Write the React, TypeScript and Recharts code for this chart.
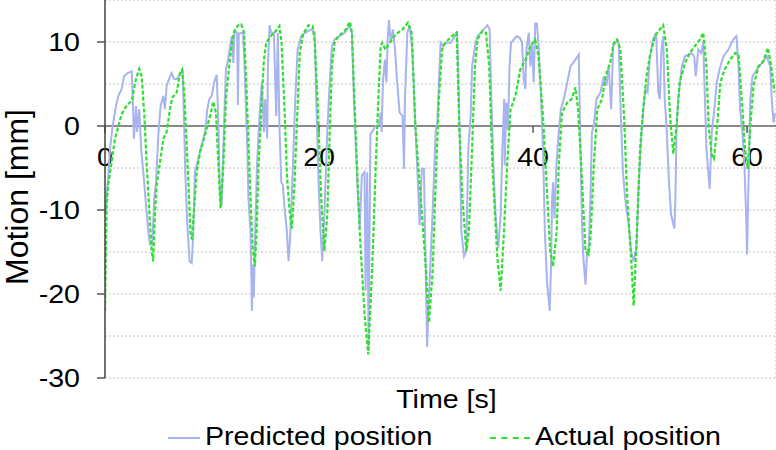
import { LineChart, Line, XAxis, YAxis, CartesianGrid, ReferenceLine } from 'recharts';

const FONT = '"Liberation Sans", Arial, sans-serif';
const STRETCH = 1.1; // the reference text is a little wider than the font
const X_MAX = 62.7;
const gridX = [0, 4, 8, 12, 16, 20, 24, 28, 32, 36, 40, 44, 48, 52, 56, 60];
const gridY = [-30, -25, -20, -15, -10, -5, 0, 5, 10, 15];
const yLabels = [-30, -20, -10, 0, 10];
const xLabels = [0, 20, 40, 60];

// [time s, motion mm]
const predicted: [number, number][] = [
  [0.1, -10.2], [0.15, -8.2], [0.3, -6.3], [0.47, -2.7], [0.72, 0], [1.03, 2.4], [1.25, 3.6], [1.56, 4.4],
  [1.78, 5.9], [2.1, 6.3], [2.5, 6.5], [2.6, 3.2], [2.7, -1.5], [2.9, 2.4], [3.0, -0.7], [3.2, 2.0],
  [3.4, -3.1], [3.58, -5.5], [3.83, -9.4], [4.05, -12.6], [4.2, -14.1], [4.42, -14.1], [4.6, -8.6],
  [4.77, -6.7], [5.0, -0.7], [5.2, 2.4], [5.45, 3.6], [5.6, 2.0], [5.76, 4.8], [6.0, 5.6], [6.23, 6.3],
  [6.45, 5.6], [6.7, 5.6], [7.0, 6.1], [7.26, 6.5], [7.4, 0], [7.5, -5.5], [7.7, -11.8], [7.9, -16.1],
  [8.1, -16.3], [8.26, -12.6], [8.4, -5.5], [8.72, -3.9], [9.03, -2.3], [9.35, -0.7], [9.56, 2.0],
  [9.75, 3.2], [9.97, 3.6], [10.2, 5.2], [10.44, 6.1], [10.6, 0], [10.75, -8.6], [10.9, -9.5], [11.05, -3.0],
  [11.2, 3.2], [11.3, 6.7], [11.5, 7.9], [11.84, 10.7], [12.0, 7.5], [12.1, 11.3], [12.35, 11.1],
  [12.42, 2.5], [12.5, 11.0], [12.9, 11.1], [13.04, 7.1], [13.3, -2.7], [13.4, -8.6], [13.6, -12.6],
  [13.73, -22.0], [13.8, -16.5], [13.9, -20.4], [14.04, -12.6], [14.2, -4.7], [14.44, 1.2], [14.66, 5.2],
  [14.85, -0.7], [14.97, 3.2], [15.16, -1.5], [15.22, 7.1], [15.38, 12.0], [15.53, 11.1], [15.78, 11.1],
  [16.0, 1.2], [16.15, 11.1], [16.3, 0], [16.47, -6.7], [16.62, -7.0], [16.78, -9.8], [17.0, -12.6],
  [17.15, -16.1], [17.3, -13.3], [17.56, -4.7], [17.78, 3.2], [18.0, 9.1], [18.34, 10.7], [18.7, 11.1],
  [19.27, 11.5], [19.6, 11.1], [19.74, 3.2], [19.96, -6.7], [20.14, -12.6], [20.3, -16.1], [20.5, -10.6],
  [20.77, -0.7], [21.0, 5.2], [21.2, 9.5], [21.45, 10.3], [21.9, 10.7], [22.4, 11.1], [22.85, 11.9],
  [23.07, 11.1], [23.26, 3.2], [23.57, -6.7], [23.8, -12.2], [24.0, -5.9], [24.25, -5.5], [24.35, -19.6],
  [24.5, -5.5], [24.63, -26.3], [24.8, -1.0], [25.3, 0], [25.6, 0.2], [25.76, 1.6], [25.85, -0.7],
  [25.97, 5.2], [26.16, 7.9], [26.3, 5.2], [26.4, 9.9], [26.53, 12.6], [26.7, 9.9], [26.9, 11.5],
  [27.1, 9.1], [27.3, 5.2], [27.53, 1.6], [27.8, 1.2], [27.94, -5.1], [28.03, 3.2], [28.25, 11.1],
  [28.47, 11.9], [28.72, 9.1], [29.0, 0], [29.3, -8.6], [29.4, -11.8], [29.6, -5.1], [29.8, -5.1],
  [29.96, -16.5], [30.1, -26.3], [30.27, -20.4], [30.6, -10.6], [30.9, -0.7], [31.05, 0.4], [31.2, 5.2],
  [31.36, 9.9], [31.6, 9.5], [31.9, 9.9], [32.3, 9.9], [32.7, 10.7], [32.9, 11.3], [33.0, 7.1],
  [33.14, -0.7], [33.3, -12.6], [33.55, -15.5], [33.76, -14.9], [33.95, -2.7], [34.17, 1.2], [34.3, 7.1],
  [34.57, 9.5], [34.8, 10.7], [35.26, 11.3], [35.73, 12.0], [35.94, 11.5], [36.1, 3.2], [36.35, -6.7],
  [36.5, -10.6], [36.75, -14.5], [36.97, -10.6], [37.13, -2.7], [37.3, 3.2], [37.35, -4.7], [37.5, 2.8],
  [37.65, -0.5], [37.8, 7.1], [37.94, 9.9], [38.2, 10.3], [38.5, 10.7], [38.75, 10.5], [38.97, 9.9],
  [39.13, 5.6], [39.28, 4.4], [39.38, 9.1], [39.6, 11.1], [39.75, 7.1], [39.9, 9.9], [40.06, 5.2],
  [40.2, 12.2], [40.35, 12.2], [40.5, 9.9], [40.75, 3.2], [40.93, -2.7], [41.1, -12.6], [41.3, -18.5],
  [41.56, -22.0], [41.68, -16.5], [41.78, -8.6], [41.87, -6.7], [42.0, -11.0], [42.18, -4.7], [42.4, -0.7],
  [42.6, 2.0], [42.87, 3.2], [43.2, 5.2], [43.5, 7.1], [43.96, 7.9], [44.27, 8.5], [44.4, -0.7],
  [44.58, -11.8], [44.7, -15.7], [44.9, -18.9], [45.05, -14.9], [45.2, -14.5], [45.36, -8.6], [45.5, -0.7],
  [45.67, 0], [45.92, 3.2], [46.3, 4.0], [46.6, 5.9], [46.85, 4.8], [47.07, 7.1], [47.3, 2.0], [47.48, 9.5],
  [47.8, 10.1], [48.0, 9.9], [48.2, 1.2], [48.4, -5.5], [48.6, -8.6], [48.94, -11.8], [49.16, -14.9],
  [49.4, -16.1], [49.66, -14.5], [49.88, -6.7], [50.1, -1.5], [50.3, 2.0], [50.5, 4.4], [50.7, 4.0],
  [50.9, 7.9], [51.2, 10.3], [51.5, 11.1], [51.7, 4.0], [51.84, 3.2], [52.0, 9.1], [52.16, 10.7],
  [52.3, 3.2], [52.47, 0], [52.7, -6.7], [52.9, -10.6], [53.2, -12.2], [53.3, -8.6], [53.4, -0.7],
  [53.56, 3.2], [53.9, 7.1], [54.2, 8.3], [54.8, 8.7], [55.06, 8.3], [55.2, 5.9], [55.44, 9.1], [55.7, 8.7],
  [55.9, 9.9], [56.06, 3.2], [56.2, -2.7], [56.4, -5.9], [56.5, -7.5], [56.7, -0.7], [56.94, 2.0],
  [57.16, 5.2], [57.5, 7.1], [57.8, 8.3], [58.25, 9.1], [58.7, 10.3], [59.0, 10.7], [59.2, 7.1],
  [59.34, 2.0], [59.56, -0.7], [59.75, -4.7], [59.9, -10.2], [60.0, -15.3], [60.1, -8.6], [60.3, 3.2],
  [60.5, 5.9], [60.9, 6.7], [61.4, 7.5], [61.85, 8.3], [62.16, 7.1], [62.3, 3.2], [62.47, 0.4], [62.6, 1.5],
];

const actual: [number, number][] = [
  [0, -22.0], [0.15, -9.4], [0.3, -7.0], [0.62, -4.3], [0.93, -1.5], [1.25, 0], [1.56, 1.4], [2.0, 2.4],
  [2.5, 3.0], [2.65, 4.0], [2.9, 5.6], [3.2, 6.8], [3.43, 5.9], [3.68, 1.2], [3.9, -4.7], [4.14, -10.2],
  [4.36, -14.9], [4.5, -16.1], [4.67, -10.6], [4.83, -7.0], [5.14, -4.3], [5.45, -1.5], [5.76, -0.7],
  [6.07, 2.0], [6.3, 3.4], [6.7, 4.0], [7.0, 6.3], [7.2, 6.7], [7.4, 4.0], [7.57, -0.7], [7.8, -7.0],
  [8.0, -13.0], [8.13, -13.5], [8.3, -10.2], [8.57, -5.5], [8.88, -3.1], [9.25, -1.5], [9.56, 0],
  [9.9, 1.6], [10.1, 2.9], [10.37, 1.6], [10.6, -4.7], [10.8, -9.8], [11.06, -4.7], [11.3, 3.2],
  [11.6, 7.1], [11.9, 10.3], [12.15, 11.5], [12.46, 12.0], [12.73, 12.1], [13.0, 11.1], [13.2, 5.2],
  [13.35, 0], [13.6, -8.6], [13.8, -14.5], [14.0, -16.7], [14.16, -12.6], [14.35, -4.7], [14.6, 2.0],
  [14.85, 7.9], [15.07, 9.9], [15.47, 10.7], [15.84, 11.1], [16.3, 11.9], [16.5, 9.9], [16.8, 1.2],
  [17.0, -5.9], [17.25, -10.2], [17.46, -12.2], [17.7, -7.0], [17.96, 1.2], [18.2, 8.7], [18.5, 10.9],
  [19.0, 12.0], [19.4, 11.9], [19.6, 9.9], [19.9, 2.0], [20.2, -8.6], [20.5, -14.9], [20.77, -10.6],
  [21.0, -0.7], [21.2, 7.1], [21.45, 9.9], [21.8, 10.7], [22.2, 11.1], [22.5, 11.5], [22.9, 12.4],
  [23.07, 11.1], [23.4, 0], [23.8, -12.6], [24.25, -22.4], [24.6, -27.2], [24.98, -16.5], [25.3, -4.7],
  [25.54, 3.2], [25.76, 9.5], [25.9, 9.9], [26.2, 9.1], [26.7, 10.1], [27.16, 10.9], [27.8, 11.5],
  [28.3, 12.3], [28.65, 11.1], [29.0, 0], [29.5, -8.6], [29.96, -16.5], [30.27, -23.4], [30.6, -17.7],
  [30.9, -6.7], [31.2, 3.2], [31.5, 9.1], [31.77, 9.9], [32.1, 10.3], [32.6, 10.9], [32.86, 11.1],
  [33.1, 0], [33.4, -8.6], [33.76, -14.9], [34.0, -12.6], [34.3, -2.7], [34.57, 7.1], [34.8, 10.3],
  [35.26, 11.3], [35.6, 11.1], [35.9, 7.1], [36.2, -4.7], [36.66, -15.7], [36.97, -19.6], [37.28, -12.6],
  [37.57, -4.7], [37.9, 2.0], [38.35, 3.6], [38.8, 6.7], [39.3, 7.9], [39.75, 9.5], [40.2, 10.3],
  [40.5, 8.3], [40.93, 1.2], [41.25, -6.7], [41.6, -14.9], [41.87, -16.7], [42.2, -12.6], [42.4, -4.7],
  [42.7, 1.6], [43.2, 2.8], [43.6, 3.2], [43.96, 4.6], [44.2, 2.0], [44.5, -4.7], [44.9, -14.9],
  [45.2, -15.3], [45.4, -12.6], [45.67, -4.7], [46.0, 2.0], [46.45, 3.2], [46.76, 5.9], [47.2, 7.5],
  [47.54, 9.9], [47.85, 10.3], [48.16, 9.1], [48.5, 1.2], [48.8, -8.6], [49.16, -15.7], [49.4, -21.4],
  [49.7, -12.6], [50.0, -2.7], [50.3, 2.2], [50.6, 5.9], [50.9, 8.3], [51.4, 10.7], [51.84, 11.5],
  [52.16, 12.0], [52.5, 9.1], [52.8, 1.2], [53.1, -3.3], [53.4, 0], [53.7, 5.2], [54.2, 7.5], [54.66, 8.7],
  [55.1, 9.5], [55.6, 10.3], [55.9, 11.1], [56.2, 7.1], [56.4, 0], [56.7, -3.5], [56.9, -3.9], [57.2, 0],
  [57.5, 5.2], [57.9, 6.7], [58.4, 7.9], [58.9, 8.7], [59.2, 8.5], [59.5, 3.2], [59.8, -2.7],
  [60.06, -5.1], [60.3, 0], [60.6, 4.8], [61.06, 7.1], [61.5, 7.7], [61.94, 9.3], [62.25, 7.1], [62.56, 4.0],
];

const predictedData = predicted.map(([t, v]) => ({ t, v }));
const actualData = actual.map(([t, v]) => ({ t, v }));

// text drawn wider than the font, anchored at (x, y)
function Wide({ x, y, anchor, dy, children }: any) {
  return (
    <text
      transform={`translate(${x} ${y}) scale(${STRETCH} 1)`}
      x={0}
      y={0}
      dy={dy}
      textAnchor={anchor}
      fontSize={26}
      fill="#000"
    >
      {children}
    </text>
  );
}

function YTick(props: any) {
  const { x, y, payload } = props;
  if (!yLabels.includes(payload.value)) return <g />;
  return (
    <g>
      <line x1={x - 8} x2={x} y1={y} y2={y} stroke="#555" strokeWidth={1.5} />
      <Wide x={x - 25} y={y} dy="0.36em" anchor="end">{payload.value}</Wide>
    </g>
  );
}

function XTickLabel(props: any) {
  const vb = props.viewBox;
  return (
    <Wide x={vb.x + vb.width / 2} y={vb.y + vb.height + 14} dy="0.75em" anchor="middle">
      {props.text}
    </Wide>
  );
}

function XTitle(props: any) {
  const vb = props.viewBox;
  return (
    <Wide x={vb.x + vb.width / 2 + 6} y={vb.y + 10} dy="0.75em" anchor="middle">
      Time [s]
    </Wide>
  );
}

function YTitle(props: any) {
  const vb = props.viewBox;
  const cy = vb.y + vb.height / 2 + 8;
  const cx = 17;
  return (
    <text
      x={cx}
      y={cy}
      transform={`rotate(-90, ${cx}, ${cy})`}
      textAnchor="middle"
      dominantBaseline="central"
      fontSize={32}
      fill="#000"
    >
      Motion [mm]
    </text>
  );
}

const legendText = {
  display: 'inline-block',
  transform: `scaleX(${STRETCH})`,
  transformOrigin: 'left center',
};

export default function App() {
  return (
    <div style={{ position: 'absolute', left: 0, top: 0, width: 776, height: 450, background: '#fff', fontFamily: FONT }}>
      <LineChart width={776} height={450} margin={{ top: 0, right: 0, bottom: 0, left: 0 }} style={{ fontFamily: FONT }}>
        <CartesianGrid stroke="#c4c4c4" strokeDasharray="2 2" />
        <XAxis
          type="number"
          dataKey="t"
          domain={[0, X_MAX]}
          ticks={gridX}
          interval={0}
          allowDataOverflow
          height={72}
          tick={false}
          tickLine={false}
          axisLine={false}
          label={<XTitle />}
        />
        <YAxis
          type="number"
          domain={[-30, 15]}
          ticks={gridY}
          interval={0}
          allowDataOverflow
          width={105}
          tickSize={0}
          tickMargin={0}
          tickLine={false}
          axisLine={{ stroke: '#444', strokeWidth: 1.5 }}
          tick={<YTick />}
          label={<YTitle />}
        />
        <ReferenceLine y={0} stroke="#666" strokeWidth={1.5} />
        {xLabels.map((t) => (
          <ReferenceLine
            key={t}
            segment={[{ x: t, y: 0 }, { x: t, y: -0.8 }]}
            stroke="#555"
            strokeWidth={1.5}
            label={<XTickLabel text={String(t)} />}
          />
        ))}
        <Line
          data={predictedData}
          dataKey="v"
          type="linear"
          stroke="#a9b3f0"
          strokeWidth={2}
          dot={false}
          isAnimationActive={false}
        />
        <Line
          data={actualData}
          dataKey="v"
          type="linear"
          stroke="#2ee02e"
          strokeWidth={2.2}
          strokeDasharray="4 2"
          dot={false}
          isAnimationActive={false}
        />
      </LineChart>
      <div style={{ position: 'absolute', left: 168, top: 420, fontSize: 26, color: '#000', whiteSpace: 'nowrap', lineHeight: '32px' }}>
        <span style={{ display: 'inline-block', width: 32, borderTop: '2px solid #a9b3f0', verticalAlign: 'middle', marginRight: 5 }} />
        <span style={legendText}>Predicted position</span>
      </div>
      <div style={{ position: 'absolute', left: 490, top: 420, fontSize: 26, color: '#000', whiteSpace: 'nowrap', lineHeight: '32px' }}>
        <span style={{ display: 'inline-block', width: 40, borderTop: '2px dashed #2ee02e', verticalAlign: 'middle', marginRight: 5 }} />
        <span style={legendText}>Actual position</span>
      </div>
    </div>
  );
}
